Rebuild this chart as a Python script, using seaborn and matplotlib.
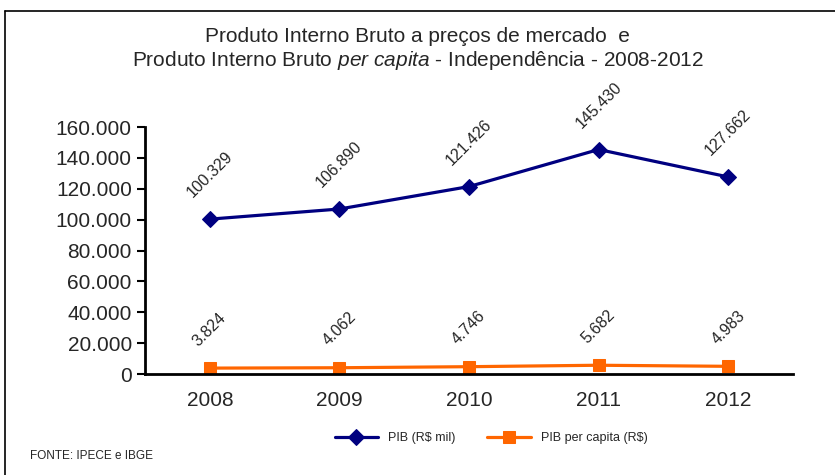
import numpy as np
import pandas as pd
import seaborn as sns
import matplotlib.pyplot as plt
from matplotlib.lines import Line2D
from matplotlib.ticker import FuncFormatter

# dados
anos = ['2008', '2009', '2010', '2011', '2012']
pib = [100329, 106890, 121426, 145430, 127662]
pib_per_capita = [3824, 4062, 4746, 5682, 4983]

azul = '#000080'
laranja = '#FF6600'

sns.set_style('white')
plt.rcParams['font.family'] = ['Liberation Sans', 'DejaVu Sans']
plt.rcParams['mathtext.fontset'] = 'custom'
plt.rcParams['mathtext.rm'] = 'Liberation Sans'
plt.rcParams['mathtext.it'] = 'Liberation Sans:italic'

df = pd.DataFrame({'pos': np.arange(len(anos)), 'ano': anos,
                   'pib': pib, 'pc': pib_per_capita})

fig = plt.figure(figsize=(8.35, 4.75), dpi=100)
ax = fig.add_axes([0.1737, 0.2126, 0.776, 0.52])

sns.lineplot(data=df, x='pos', y='pib', ax=ax, color=azul, linewidth=2.3,
             marker='D', markersize=8.5, markeredgecolor=azul, label='PIB (R$ mil)')
sns.lineplot(data=df, x='pos', y='pc', ax=ax, color=laranja, linewidth=2.3,
             marker='s', markersize=8.5, markeredgecolor=laranja,
             label='PIB per capita (R$)')

# rótulos de valores
fmt = lambda v: f'{v:,.0f}'.replace(',', '.')
for i, v in enumerate(pib):
    ax.annotate(fmt(v), (i, v), xytext=(0, 32), textcoords='offset points',
                ha='center', va='center', rotation=45, fontsize=11.5)
for i, v in enumerate(pib_per_capita):
    ax.annotate(fmt(v), (i, v), xytext=(0, 28), textcoords='offset points',
                ha='center', va='center', rotation=45, fontsize=11.5)

ax.set_xlim(-0.5, len(anos) - 0.5)
ax.set_ylim(0, 160000)
ax.set_yticks(np.arange(0, 160001, 20000))
ax.yaxis.set_major_formatter(FuncFormatter(lambda v, p: fmt(v)))
ax.set_xticks(df['pos'])
ax.set_xticklabels(anos)
ax.set_xticks(np.arange(-0.5, len(anos)), minor=True)
ax.tick_params(axis='x', which='major', length=0, labelsize=15, pad=12)
ax.tick_params(axis='x', which='minor', length=6, width=1.5, direction='out', color='black')
ax.tick_params(axis='y', length=6, width=1.5, direction='out', color='black',
               labelsize=15, left=True)
ax.set_xlabel('')
ax.set_ylabel('')
for s in ['top', 'right']:
    ax.spines[s].set_visible(False)
for s in ['left', 'bottom']:
    ax.spines[s].set_color('black')
    ax.spines[s].set_linewidth(2)

ax.legend(loc='center', bbox_to_anchor=(0.588, 0.078), bbox_transform=fig.transFigure,
          ncol=2, frameon=False, fontsize=9, handlelength=3.5, columnspacing=2.5)

# título
fig.text(0.5, 1 - 37 / 475, 'Produto Interno Bruto a preços de mercado  e',
         ha='center', va='center', fontsize=15)
fig.text(0.5, 1 - 60 / 475,
         r'Produto Interno Bruto $\it{per\ capita}$ - Independência - 2008-2012',
         ha='center', va='center', fontsize=15)

fig.text(30 / 835, 1 - 456 / 475, 'FONTE: IPECE e IBGE', ha='left', va='center',
         fontsize=8.5)

# moldura
fig.add_artist(Line2D([5 / 835, 5 / 835], [0, 1 - 11 / 475], color='black', lw=1.2,
                      transform=fig.transFigure))
fig.add_artist(Line2D([5 / 835, 1], [1 - 11 / 475, 1 - 11 / 475], color='black', lw=1.2,
                      transform=fig.transFigure))

fig.savefig('out.png', dpi=100)
